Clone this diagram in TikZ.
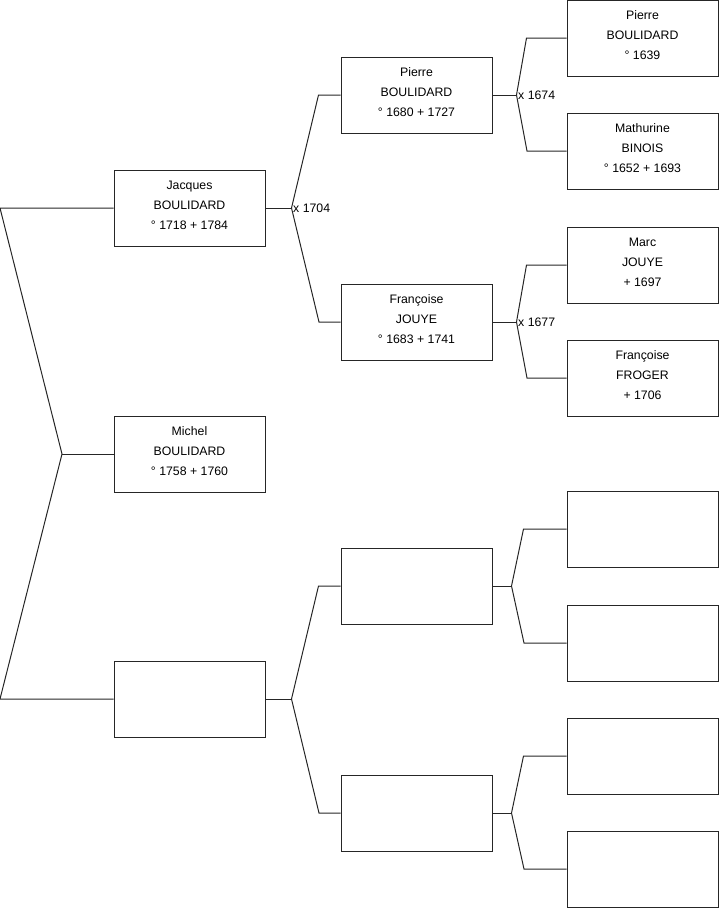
\documentclass[tikz,border=0pt]{standalone}
\usepackage{fontspec}
\setmainfont{Liberation Sans}
\usetikzlibrary{positioning}
\definecolor{lgray}{HTML}{262626}
\newcommand{\lowpad}{\rule[-5pt]{0pt}{5pt}}

\begin{document}
\begin{tikzpicture}[x=1pt,y=-1pt,
    pbox/.style={draw=lgray,line width=1pt,minimum width=151pt,minimum height=76pt,
                 inner sep=0pt,align=center,font=\fontsize{12.3}{20}\selectfont},
    link/.style={lgray,line width=1pt},
    mlabel/.style={anchor=west,inner sep=1.5pt,font=\fontsize{12.3}{14}\selectfont}]
        \useasboundingbox (0,0) rectangle (719,908);
        % generation 1
        \node[pbox] (jacques) at (189.5,208) {Jacques\\BOULIDARD\\° 1718 + 1784\lowpad};
        \node[pbox] (michel)  at (189.5,454) {Michel\\BOULIDARD\\° 1758 + 1760\lowpad};
        \node[pbox] (anon)    at (189.5,699) {};
        % generation 2
        \node[pbox] (pierre)    at (416.5,95)  {Pierre\\BOULIDARD\\° 1680 + 1727\lowpad};
        \node[pbox] (francoise) at (416.5,322) {Françoise\\JOUYE\\° 1683 + 1741\lowpad};
        \node[pbox] (anonA)     at (416.5,586) {};
        \node[pbox] (anonB)     at (416.5,813) {};
        % generation 3
        \node[pbox] (pierreB)    at (642.5,38)  {Pierre\\BOULIDARD\\° 1639\lowpad};
        \node[pbox] (mathurine)  at (642.5,151) {Mathurine\\BINOIS\\° 1652 + 1693\lowpad};
        \node[pbox] (marc)       at (642.5,265) {Marc\\JOUYE\\+ 1697\lowpad};
        \node[pbox] (francoiseB) at (642.5,378) {Françoise\\FROGER\\+ 1706\lowpad};
        \foreach \n/\y in {a/529,b/643,c/756,d/869}
          \node[pbox] (anon\n) at (642.5,\y) {};

        % root bracket
        \coordinate (r2) at (62,454);
        \draw[link] (jacques.west) -- (0,208) -- (r2) -- (0,699) -- (anon.west);
        \draw[link] (r2) -- (michel.west);

        % forks
        \draw[link] (jacques.east) -- ++(26,0) coordinate (k1);
        \draw[link] (pierre.west) -- ++(-22,0) -- (k1) -- (319,322) -- (francoise.west);
        \node[mlabel] at (k1) {x 1704};
        \draw[link] (anon.east) -- ++(26,0) coordinate (k2);
        \draw[link] (anonA.west) -- ++(-22,0) -- (k2) -- (319,813) -- (anonB.west);

        \draw[link] (pierre.east) -- ++(24,0) coordinate (k3);
        \draw[link] (pierreB.west) -- ++(-40,0) -- (k3) -- (527,151) -- (mathurine.west);
        \node[mlabel] at (k3) {x 1674};
        \draw[link] (francoise.east) -- ++(24,0) coordinate (k4);
        \draw[link] (marc.west) -- ++(-40,0) -- (k4) -- (527,378) -- (francoiseB.west);
        \node[mlabel] at (k4) {x 1677};
        \draw[link] (anonA.east) -- ++(19,0) coordinate (k5);
        \draw[link] (anona.west) -- ++(-43,0) -- (k5) -- (524,643) -- (anonb.west);
        \draw[link] (anonB.east) -- ++(19,0) coordinate (k6);
        \draw[link] (anonc.west) -- ++(-43,0) -- (k6) -- (524,869) -- (anond.west);
      \end{tikzpicture}
\end{document}
